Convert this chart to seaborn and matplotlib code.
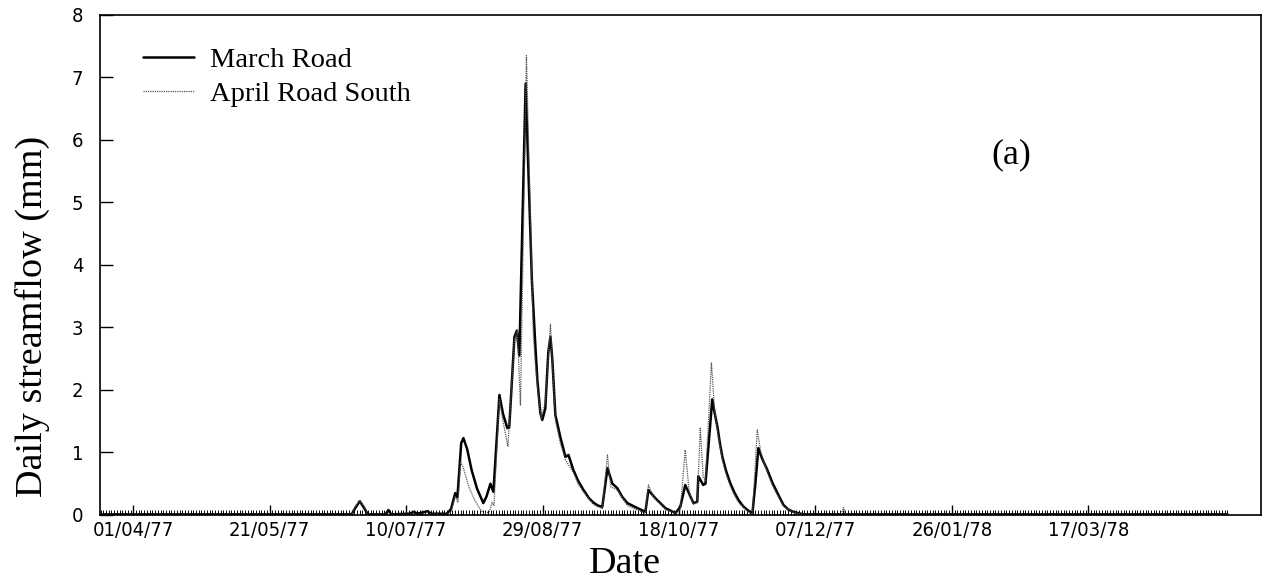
import numpy as np
import pandas as pd
import matplotlib
matplotlib.use("Agg")
import matplotlib.pyplot as plt
import seaborn as sns

# ---------------- data (days after 01/04/77, daily streamflow in mm) ----------------
march_day = [-12, 80, 81.5, 83, 84.5, 86, 92.5, 93.5, 94.5, 101, 103, 104, 106, 108, 109,
             115, 116.5, 118, 118.8, 120.2, 121, 122.4, 124, 126, 128.3, 129.5, 130.9, 132,
             134.2, 135.5, 137.1, 137.8, 139.7, 140.6, 141.5, 143.8, 146.1, 147.4, 148.1,
             149.2, 149.9, 151, 152.1, 152.9, 153.6, 154.7, 156.5, 158.4, 159.5, 161.3, 163,
             165, 167, 168.6, 170.3, 171.9, 173.8, 175.6, 177.4, 179.2, 181.1, 184.8, 187.7,
             188.8, 191.3, 195, 198.7, 200.5, 202.3, 205.3, 206.7, 207.1, 208.9, 209.7, 212.2,
             213, 214.1, 215, 215.9, 217.3, 218.8, 220.3, 221.8, 223.5, 225.1, 226.9, 228.0,
             229.1, 230.5, 232.4, 234.2, 236.1, 238.3, 240, 241.9, 245.6, 260, 401]
march_flow = [0.01, 0.01, 0.12, 0.22, 0.12, 0.01, 0.01, 0.08, 0.01, 0.02, 0.05, 0.02, 0.04, 0.06, 0.02,
              0.02, 0.10, 0.35, 0.28, 1.15, 1.23, 1.05, 0.72, 0.42, 0.19, 0.30, 0.50, 0.37,
              1.92, 1.62, 1.39, 1.40, 2.85, 2.95, 2.55, 6.90, 3.75, 2.68, 2.16,
              1.63, 1.52, 1.70, 2.60, 2.85, 2.48, 1.60, 1.25, 0.93, 0.96, 0.72, 0.55,
              0.40, 0.27, 0.20, 0.15, 0.13, 0.75, 0.50, 0.43, 0.29, 0.19, 0.11, 0.05,
              0.40, 0.27, 0.11, 0.03, 0.13, 0.48, 0.19, 0.21, 0.62, 0.48, 0.50, 1.85,
              1.65, 1.41, 1.15, 0.93, 0.70, 0.51, 0.36, 0.24, 0.14, 0.08, 0.02, 0.50,
              1.07, 0.90, 0.72, 0.52, 0.35, 0.16, 0.09, 0.05, 0.01, 0.01, 0.01]

april_day = [-12, 80, 81.5, 83, 84.5, 86, 115, 116.5, 118, 119, 120, 121, 123, 125, 127, 128.5,
             130.5, 131.5, 132.2, 134.2, 135.5, 137.3, 139.7, 140.8, 141.9, 144.1, 146.6, 147.4,
             148.5, 149.5, 151, 152.9, 154, 154.8, 156.5, 158.4, 161.3, 163, 165, 168.6, 171.9,
             173.8, 175, 177.4, 181.1, 184.8, 187.7, 188.8, 190.5, 195, 198.7, 200.5, 202.3,
             203.8, 205.3, 206.7, 207.8, 208.9, 209.7, 211.9, 213, 214.1, 215.9, 217.3, 218.8,
             220.3, 221.8, 225.1, 226.9, 228.7, 230, 232.4, 234.2, 236.1, 238.3, 241.9, 245.6,
             259.5, 260.3, 261, 401]
april_flow = [0.01, 0.01, 0.15, 0.22, 0.15, 0.01, 0.01, 0.05, 0.30, 0.20, 0.85, 0.75, 0.45, 0.25, 0.10, 0.02,
              0.05, 0.20, 0.15, 1.85, 1.50, 1.10, 2.80, 2.95, 1.75, 7.35, 2.90, 2.40,
              1.90, 1.55, 1.80, 3.05, 2.10, 1.50, 1.15, 0.88, 0.68, 0.50, 0.37, 0.17, 0.10,
              0.96, 0.45, 0.40, 0.15, 0.08, 0.03, 0.48, 0.30, 0.09, 0.02, 0.10, 1.04,
              0.35, 0.17, 0.20, 1.39, 0.60, 0.55, 2.44, 1.70, 1.35, 0.88, 0.65, 0.46,
              0.32, 0.20, 0.06, 0.01, 1.36, 1.00, 0.68, 0.48, 0.32, 0.14, 0.04, 0.01,
              0.01, 0.12, 0.01, 0.01]

tick_days = [0, 50, 100, 150, 200, 250, 300, 350]
tick_labels = ["01/04/77", "21/05/77", "10/07/77", "29/08/77",
               "18/10/77", "07/12/77", "26/01/78", "17/03/78"]
series_names = ["March Road", "April Road South"]

# ---------------- figure ----------------
sns.set_theme(style="white")
plt.rcParams["font.family"] = ["Liberation Serif", "DejaVu Serif"]

fig = plt.figure(figsize=(12.75, 5.85), dpi=100)
ax = fig.add_axes([0.0784, 0.1197, 0.9106, 0.8547])

sns.lineplot(x=march_day, y=march_flow, ax=ax, color="black", linewidth=1.8,
             label=series_names[0], estimator=None, sort=False)
sns.lineplot(x=april_day, y=april_flow, ax=ax, color="#555555", linewidth=0.9,
             linestyle=(0, (1, 0.8)), label=series_names[1], estimator=None, sort=False)

ax.set_xlim(-12.2, 413.3)
ax.set_ylim(0, 8)
ax.set_xticks(tick_days)
ax.set_xticklabels(tick_labels)
ax.set_yticks(range(9))
ax.set_xticks(np.arange(-12, 402), minor=True)

ax.tick_params(axis="x", which="major", direction="in", length=7, width=1.0,
               pad=4, bottom=True, color="black")
ax.tick_params(axis="x", which="minor", direction="in", length=3.5, width=0.7,
               bottom=True, color="black")
ax.tick_params(axis="y", which="major", direction="in", length=9, width=1.0,
               pad=12, left=True, color="black")

for lab in ax.get_xticklabels() + ax.get_yticklabels():
    lab.set_fontfamily("DejaVu Sans")
    lab.set_fontstretch("condensed")
    lab.set_fontsize(14.5)
    lab.set_color("black")

for sp in ax.spines.values():
    sp.set_visible(True)
    sp.set_color("black")
    sp.set_linewidth(1.2)

ax.set_xlabel("Date", fontsize=27.5, color="black")
ax.set_ylabel("Daily streamflow (mm)", fontsize=27.5, color="black")
ax.xaxis.set_label_coords(0.452, -0.064)
ax.yaxis.set_label_coords(-0.043, 0.398)

ax.text(0.785, 0.72, "(a)", transform=ax.transAxes, fontsize=26,
        ha="center", va="center", color="black")

leg = ax.legend(loc="upper left", bbox_to_anchor=(0.02, 0.975), frameon=False,
                fontsize=20.5, handlelength=1.8, handletextpad=0.55,
                labelspacing=0.28, borderpad=0.2)
for t in leg.get_texts():
    t.set_color("black")

fig.savefig("out.png", dpi=100)
